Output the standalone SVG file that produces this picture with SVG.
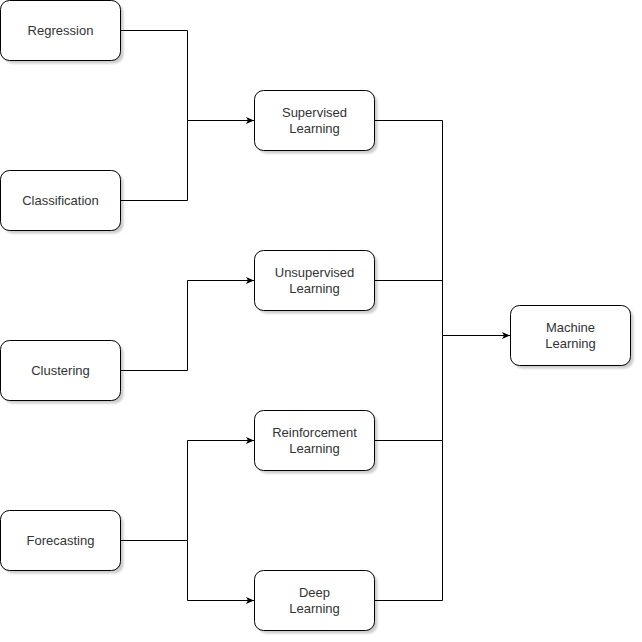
<svg xmlns="http://www.w3.org/2000/svg" width="642" height="642" viewBox="0 0 642 642">
<style>
.box{fill:#fff;stroke:#000;stroke-width:1;}
.sh{fill:#000;opacity:0.2;filter:url(#blur);}
.t{font-family:"Liberation Sans",Arial,sans-serif;font-size:13px;fill:#333;text-anchor:middle;}
.c{fill:none;stroke:#000;stroke-width:1;}
</style>
<defs>
<filter id="blur" x="-10%" y="-10%" width="120%" height="130%"><feGaussianBlur stdDeviation="1.2"/></filter>
<marker id="ah" markerWidth="10" markerHeight="10" refX="8" refY="4" orient="auto" markerUnits="userSpaceOnUse">
<path d="M0,0.5 L8,4 L0,7.5 L2,4 Z" fill="#000"/>
</marker>
<rect id="s" width="120" height="60" rx="9" ry="9"/>
</defs>
<rect width="642" height="642" fill="#fff"/>
<g id="connectors">
<path class="c" d="M120.5,30.5 H187.5 V120.5 H254" marker-end="url(#ah)"/>
<path class="c" d="M120.5,200.5 H187.5 V120.5"/>
<path class="c" d="M120.5,370.5 H187.5 V280.5 H254" marker-end="url(#ah)"/>
<path class="c" d="M120.5,540.5 H187.5 V440.5 H254" marker-end="url(#ah)"/>
<path class="c" d="M187.5,540.5 V600.5 H254" marker-end="url(#ah)"/>
<path class="c" d="M374.5,120.5 H442.5 V335.5 H510" marker-end="url(#ah)"/>
<path class="c" d="M374.5,280.5 H442.5"/>
<path class="c" d="M374.5,440.5 H442.5 V335.5"/>
<path class="c" d="M374.5,600.5 H442.5 V440.5"/>
</g>
<g id="regression">
<use href="#s" x="3.5" y="3.5" class="sh"/>
<rect class="box" x="0.5" y="0.5" width="120" height="60" rx="9" ry="9"/>
<text class="t" x="60.5" y="35">Regression</text>
</g>
<g id="classification">
<use href="#s" x="3.5" y="173.5" class="sh"/>
<rect class="box" x="0.5" y="170.5" width="120" height="60" rx="9" ry="9"/>
<text class="t" x="60.5" y="205">Classification</text>
</g>
<g id="clustering">
<use href="#s" x="3.5" y="343.5" class="sh"/>
<rect class="box" x="0.5" y="340.5" width="120" height="60" rx="9" ry="9"/>
<text class="t" x="60.5" y="375">Clustering</text>
</g>
<g id="forecasting">
<use href="#s" x="3.5" y="513.5" class="sh"/>
<rect class="box" x="0.5" y="510.5" width="120" height="60" rx="9" ry="9"/>
<text class="t" x="60.5" y="545">Forecasting</text>
</g>
<g id="supervised">
<use href="#s" x="257.5" y="93.5" class="sh"/>
<rect class="box" x="254.5" y="90.5" width="120" height="60" rx="9" ry="9"/>
<text class="t" x="314.5" y="117">Supervised</text>
<text class="t" x="314.5" y="133">Learning</text>
</g>
<g id="unsupervised">
<use href="#s" x="257.5" y="253.5" class="sh"/>
<rect class="box" x="254.5" y="250.5" width="120" height="60" rx="9" ry="9"/>
<text class="t" x="314.5" y="277">Unsupervised</text>
<text class="t" x="314.5" y="293">Learning</text>
</g>
<g id="reinforcement">
<use href="#s" x="257.5" y="413.5" class="sh"/>
<rect class="box" x="254.5" y="410.5" width="120" height="60" rx="9" ry="9"/>
<text class="t" x="314.5" y="437">Reinforcement</text>
<text class="t" x="314.5" y="453">Learning</text>
</g>
<g id="deep">
<use href="#s" x="257.5" y="573.5" class="sh"/>
<rect class="box" x="254.5" y="570.5" width="120" height="60" rx="9" ry="9"/>
<text class="t" x="314.5" y="597">Deep</text>
<text class="t" x="314.5" y="613">Learning</text>
</g>
<g id="machine">
<use href="#s" x="513.5" y="308.5" class="sh"/>
<rect class="box" x="510.5" y="305.5" width="120" height="60" rx="9" ry="9"/>
<text class="t" x="570.5" y="332">Machine</text>
<text class="t" x="570.5" y="348">Learning</text>
</g>
</svg>
